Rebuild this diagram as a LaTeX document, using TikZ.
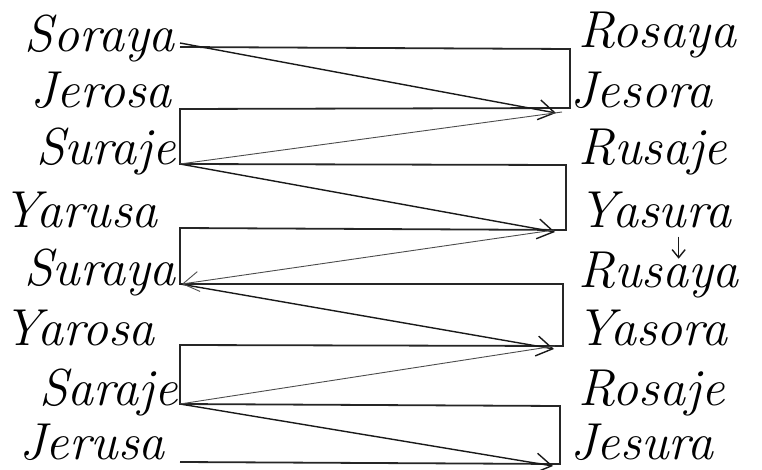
\documentclass[tikz,border=0pt]{standalone}
\usepackage{fontspec}
\usetikzlibrary{arrows.meta}
\begin{document}
\begin{tikzpicture}[x=1pt, y=-1pt,
	barb/.style={-{Straight Barb[length=16pt,width=20pt]}},
	smallbarb/.style={-{Straight Barb[length=8pt,width=13pt]}},
	word/.style={inner sep=0pt, font=\fontsize{52}{52}\selectfont\itshape},
	rword/.style={word, font=\fontsize{52}{52}\selectfont\itshape\addfontfeatures{LetterSpace=9}},
	link/.style={line width=1.8pt, black!85},
	diag/.style={line width=1.4pt, black!90},
	back/.style={line width=0.9pt, black!70}]
	\useasboundingbox (0,0) rectangle (762,470);

	%left words
	\foreach \w/\x/\y in {Soraya/175/52, Jerosa/172/108, Suraje/176/165, Yarusa/158/228,
		Suraya/176/285, Yarosa/155/345, Saraje/178/405, Jerusa/165/459}{
		\node[word, anchor=base east] (\w) at (\x,\y) {\w};
	}

	%right words
	\foreach \w/\x/\y in {Rosaya/578/48, Jesora/570/108, Rusaje/578/165, Yasura/578/228,
		Rusaya/578/287, Yasora/576/345, Rosaje/578/405, Jesura/570/459}{
		\node[rword, anchor=base west] (\w) at (\x,\y) {\w};
	}

	%ports
	\foreach \n/\y in {1/47, 2/109, 3/164, 4/228, 5/284, 6/345, 7/404, 8/462}{
		\coordinate (L\n) at (180,\y);
	}
	\coordinate (R1) at (570,49);
	\coordinate (R2) at (570,108);
	\coordinate (R3) at (566,165);
	\coordinate (R4) at (566,230);
	\coordinate (R5) at (563,284);
	\coordinate (R6) at (563,346);
	\coordinate (R7) at (560,406);
	\coordinate (R8) at (560,464);

	%the zigzag
	\draw[link] (L1) -- (R1) -- (R2) -- (L2) -- (L3) -- (R3) -- (R4) -- (L4)
		-- (L5) -- (R5) -- (R6) -- (L6) -- (L7) -- (R7) -- (R8) -- (L8);

	%crossing arrows
	\draw[diag, barb] ([yshift=4pt]L1) -- ([shift={(-14,5)}]R2);
	\draw[diag, barb] (L3) -- ([shift={(-11,2)}]R4);
	\draw[diag, barb] (L5) -- ([shift={(-9,3)}]R6);
	\draw[diag, barb] (L7) -- ([shift={(-7,2)}]R8);

	%way back
	\draw[back, barb] ([shift={(-12,0)}]R4) -- ([xshift=2pt]L5);
	\draw[back] (L3) -- ([shift={(-8,4)}]R2);
	\draw[back] (L7) -- ([shift={(-8,0)}]R6);

	\draw[diag, smallbarb] ([shift={(24,8)}]Yasura.south) -- ++(0,22);
\end{tikzpicture}
\end{document}
